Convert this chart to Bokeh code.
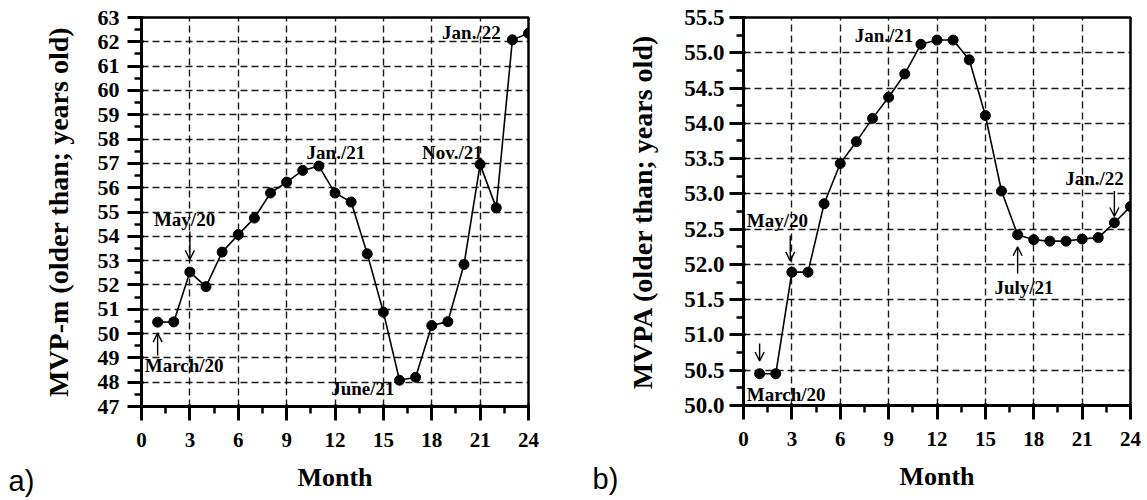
from bokeh.plotting import figure
from bokeh.layouts import row
from bokeh.models import (Range1d, FixedTicker, NumeralTickFormatter, Label, Arrow,
                          OpenHead, ColumnDataSource)
from bokeh.embed import file_html
from bokeh.resources import INLINE

# ---------------- data ----------------
months = list(range(1, 25))
mvp_m = [50.47, 50.48, 52.53, 51.93, 53.35, 54.07, 54.75, 55.78, 56.23, 56.71,
         56.89, 55.78, 55.41, 53.28, 50.88, 48.08, 48.2, 50.33, 50.49, 52.84,
         56.96, 55.17, 62.08, 62.35]
mvpa = [50.45, 50.45, 51.89, 51.89, 52.86, 53.43, 53.74, 54.07, 54.37, 54.70,
        55.12, 55.18, 55.18, 54.90, 54.11, 53.04, 52.42, 52.35, 52.33, 52.33,
        52.36, 52.38, 52.59, 52.82]

x_ticks = [0, 3, 6, 9, 12, 15, 18, 21, 24]
x_minor = [1.5, 4.5, 7.5, 10.5, 13.5, 16.5, 19.5, 22.5]
ya_ticks = list(range(47, 64))
ya_minor = [v + 0.5 for v in range(47, 63)]
yb_ticks = [50.0, 50.5, 51.0, 51.5, 52.0, 52.5, 53.0, 53.5, 54.0, 54.5, 55.0, 55.5]
yb_minor = [50.25, 50.75, 51.25, 51.75, 52.25, 52.75, 53.25, 53.75, 54.25, 54.75, 55.25]

# annotations: text, x (month), y (value)
a_labels = ["March/20", "May/20", "Jan./21", "Nov./21", "Jan./22", "June/21"]
a_lab_x = [0.2, 0.77, 10.24, 17.4, 18.64, 11.76]
a_lab_y = [48.67, 54.68, 57.44, 57.44, 62.38, 47.73]
a_arrows = [(1, 49.1, 1, 50.02), (3, 54.2, 3, 53.05)]

b_labels = ["March/20", "May/20", "Jan./21", "Jan./22", "July/21"]
b_lab_x = [0.2, 0.2, 6.9, 19.95, 15.56]
b_lab_y = [50.156, 52.62, 55.25, 53.22, 51.67]
b_arrows = [(1, 50.88, 1, 50.63), (2.9, 52.41, 2.9, 52.05),
            (23, 53.04, 23, 52.68), (17, 51.87, 17, 52.25)]

SERIF = "Liberation Serif"


def make_panel(yvals, yrange, yticks, yminor, ylabel, fmt, labels, lx, ly, arrows,
               borders, fh, ytick_size, lab_standoff, axlab_standoff):
    bl, br, bt, bb = borders
    p = figure(frame_width=387, frame_height=fh, output_backend="svg",
               toolbar_location=None, x_range=Range1d(0, 24),
               y_range=Range1d(*yrange),
               min_border_left=bl, min_border_right=br, min_border_top=bt,
               min_border_bottom=bb)
    p.background_fill_color = "white"
    p.border_fill_color = "white"
    p.outline_line_color = "black"
    p.outline_line_width = 2.5
    p.outline_line_alpha = 1

    p.xaxis.ticker = FixedTicker(ticks=x_ticks, minor_ticks=x_minor)
    p.yaxis.ticker = FixedTicker(ticks=yticks, minor_ticks=yminor)
    if fmt:
        p.yaxis.formatter = NumeralTickFormatter(format=fmt)
    for ax in (p.xaxis, p.yaxis):
        ax.axis_line_width = 3
        ax.axis_line_color = "black"
        ax.major_tick_line_width = 3
        ax.minor_tick_line_width = 2.5
        ax.major_tick_out = 14
        ax.major_tick_in = 2
        ax.minor_tick_out = 7
        ax.minor_tick_in = 0
        ax.major_label_text_font = SERIF
        ax.major_label_text_font_style = "bold"
        ax.major_label_text_font_size = "21px"
        ax.major_label_text_color = "black"
        ax.axis_label_text_font = SERIF
        ax.axis_label_text_font_style = "bold"
        ax.axis_label_text_font_size = "26px"
        ax.axis_label_text_color = "black"
    p.yaxis.major_label_text_font_size = ytick_size
    p.yaxis.axis_label_text_font_size = "28px"
    p.xaxis.major_label_standoff = 12
    p.xaxis.axis_label = "Month"
    p.xaxis.axis_label_standoff = 13
    p.yaxis.major_label_standoff = lab_standoff
    p.yaxis.axis_label = ylabel
    p.yaxis.axis_label_standoff = axlab_standoff

    p.xgrid.ticker = FixedTicker(ticks=x_ticks)
    p.ygrid.ticker = FixedTicker(ticks=yticks)
    for g in (p.xgrid, p.ygrid):
        g.grid_line_color = "black"
        g.grid_line_width = 1.4
        g.grid_line_dash = "7 4"
        g.grid_line_alpha = 0.9

    src = ColumnDataSource(dict(x=months, y=yvals))
    p.line("x", "y", source=src, line_color="black", line_width=1.6)
    p.scatter("x", "y", source=src, size=10, fill_color="black", line_color="black")

    for t, x, y in zip(labels, lx, ly):
        p.add_layout(Label(x=x, y=y, text=t, text_font=SERIF, text_font_style="bold",
                           text_font_size="19px", text_align="left",
                           text_baseline="middle", text_color="black"))
    for (x0, y0, x1, y1) in arrows:
        p.add_layout(Arrow(x_start=x0, y_start=y0, x_end=x1, y_end=y1,
                           line_width=1.4, line_color="black",
                           end=OpenHead(size=9, line_width=1.4, line_color="black")))
    return p


pa = make_panel(mvp_m, (47, 63), ya_ticks, ya_minor, "MVP-m (older than; years old)",
                None, a_labels, a_lab_x, a_lab_y, a_arrows,
                (141, 50, 17, 93), 389, "22px", 8, 21)
pb = make_panel(mvpa, (50, 55.5), yb_ticks, yb_minor, "MVPA (older than; years old)",
                "0.0", b_labels, b_lab_x, b_lab_y, b_arrows,
                (165, 12, 17, 94), 388, "23px", 5, 23)

# panel tags (placed in the left side panel so they are not clipped to the frame)
pa.add_layout(Label(x=8, y=480, x_units="canvas", y_units="canvas", text="a)",
                    text_font="Liberation Sans", text_font_size="29px",
                    text_align="left", text_baseline="middle", text_color="black"),
              "left")
pb.add_layout(Label(x=14, y=478, x_units="canvas", y_units="canvas", text="b)",
                    text_font="Liberation Sans", text_font_size="29px",
                    text_align="left", text_baseline="middle", text_color="black"),
              "left")

layout = row(pa, pb)
open("out.html", "w").write(file_html(layout, INLINE))
